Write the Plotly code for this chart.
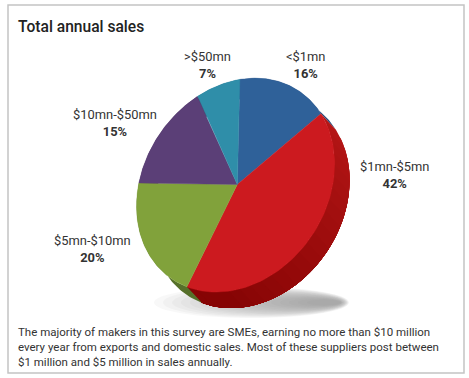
import numpy as np
import plotly.graph_objects as go

W, H = 469, 378
categories = ["<$1mn", "$1mn-$5mn", "$5mn-$10mn", "$10mn-$50mn", ">$50mn"]
shares = [16, 42, 20, 15, 7]
colors = ["#2f6199", "#cc1a1f", "#81a23b", "#5b3f77", "#2f8ea9"]
walls = ["#24497a", "#a01010", "#56702a", "#453059", "#24708a"]
title = "Total annual sales"
caption = ["The majority of makers in this survey are SMEs, earning no more than $10 million",
           "every year from exports and domestic sales. Most of these suppliers post between",
           "$1 million and $5 million in sales annually."]
label_pos = [(305, 65), (394, 175), (92, 249), (115, 123), (207, 65)]
FONT = "Roboto"
TEXT = "#333333"

# Perspective of the tilted disc: the rim points of the slice boundaries and the centre, in page pixels
anchors_page = [(240, 79), (321, 114), (187, 287), (139, 183), (197, 97), (237, 184)]
cum = np.cumsum([0] + shares)[:-1] / sum(shares) * 2 * np.pi
disc = [(np.sin(a), -np.cos(a)) for a in cum] + [(0.0, 0.0)]
rows = []
for (u, v), (x, y) in zip(disc, anchors_page):
    rows.append([u, v, 1, 0, 0, 0, -x * u, -x * v, -x])
    rows.append([0, 0, 0, u, v, 1, -y * u, -y * v, -y])
PROJ = np.linalg.svd(np.array(rows))[2][-1].reshape(3, 3)


def project(angles):
    p = PROJ @ np.vstack([np.sin(angles), -np.cos(angles), np.ones_like(angles)])
    return p[0] / p[2], p[1] / p[2]


def hex_mix(a, b, t):
    ca = [int(a[i:i + 2], 16) for i in (1, 3, 5)]
    cb = [int(b[i:i + 2], 16) for i in (1, 3, 5)]
    return "#" + "".join(f"{round(x + (y - x) * t):02x}" for x, y in zip(ca, cb))


fig = go.Figure()
DX, DY = 15, 16
start = 0.0
spans = []
for s in shares:
    end = start + s / sum(shares) * 2 * np.pi
    spans.append((start, end))
    start = end

# side wall of the disc; each band runs on to the slice's end so the next band overlaps it without a seam
for i, (a0, a1) in enumerate(spans):
    n = 24 if i == 1 else 1
    edges = np.linspace(a0, a1, n + 1)
    for k in range(n):
        ang = np.linspace(edges[k], a1, 60)
        x, y = project(ang)
        col = hex_mix("#b51616", "#860404", min(1, k / 20)) if i == 1 else walls[i]
        fig.add_trace(go.Scatter(x=np.r_[x, x[::-1] + DX], y=np.r_[y, y[::-1] + DY], fill="toself", mode="lines",
                                 fillcolor=col, line=dict(color=col, width=0), hoverinfo="skip", showlegend=False))

# top face
p = PROJ @ np.array([0, 0, 1.0])
cx, cy = p[0] / p[2], p[1] / p[2]
for (a0, a1), c, s, col in zip(spans, categories, shares, colors):
    x, y = project(np.linspace(a0, a1, 80))
    fig.add_trace(go.Scatter(x=np.r_[cx, x, cx], y=np.r_[cy, y, cy],
                             fill="toself", mode="lines", fillcolor=col, line=dict(color=col, width=0.4),
                             name=c, text=f"{s}%", hoverinfo="name+text", showlegend=False))

shapes = [dict(type="rect", x0=8, x1=464, y0=373, y1=5, line=dict(color="#c4c4c4", width=1.5), layer="below")]
# soft ground shadow: many faint ellipses, denser toward the right
for i in range(18):
    shapes.append(dict(type="circle", layer="below", x0=154 + i * 9, x1=349 - i * .5,
                       y0=318 - i * .75, y1=287 + i * .75,
                       line=dict(width=0), fillcolor="rgba(125,125,130,0.055)"))

anns = [dict(x=16, y=27, text=title, showarrow=False, xanchor="left", yanchor="middle",
             font=dict(family=FONT, size=15.6, color="#222222", weight=500))]
for (x, y), c, s in zip(label_pos, categories, shares):
    c_txt = c.replace("<", "&lt;")
    anns.append(dict(x=x, y=y, text=f"{c_txt}<br><b>{s}%</b>", showarrow=False,
                     xanchor="center", yanchor="middle", align="center",
                     font=dict(family=FONT, size=12.9, color=TEXT)))
for i, line in enumerate(caption):
    anns.append(dict(x=16, y=332 + i * 15, text=line, showarrow=False,
                     xanchor="left", yanchor="middle", font=dict(family=FONT, size=11.5, color=TEXT)))

fig.update_layout(width=W, height=H, margin=dict(l=0, r=0, t=0, b=0), paper_bgcolor="white", plot_bgcolor="white",
                  xaxis=dict(range=[0, W], visible=False, fixedrange=True),
                  yaxis=dict(range=[H, 0], visible=False, fixedrange=True),
                  shapes=shapes, annotations=anns)
fig.write_html("out.html", config=dict(displayModeBar=False),
               post_script="document.body.style.margin='0';")
